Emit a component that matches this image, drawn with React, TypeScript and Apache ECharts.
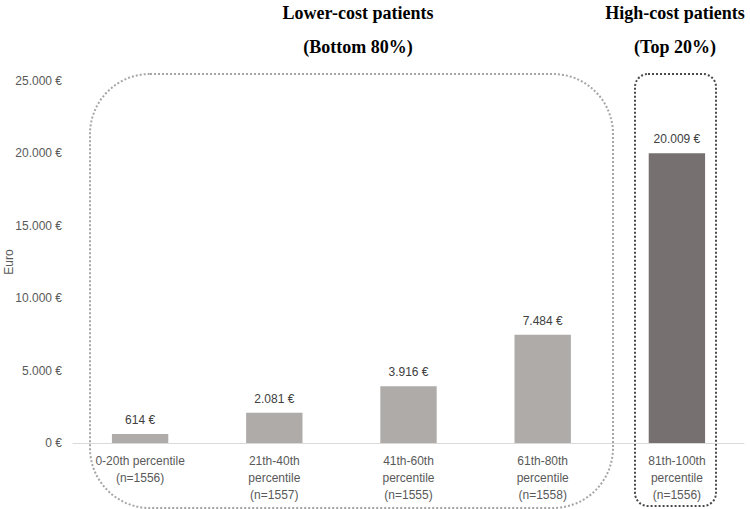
import React, { useEffect, useRef } from "react";
import * as echarts from "echarts";

const categories = [
  "0-20th percentile\n(n=1556)",
  "21th-40th\npercentile\n(n=1557)",
  "41th-60th\npercentile\n(n=1555)",
  "61th-80th\npercentile\n(n=1558)",
  "81th-100th\npercentile\n(n=1556)",
];
const values = [614, 2081, 3916, 7484, 20009];
const barColors = ["#AEABA9", "#AEABA9", "#AEABA9", "#AEABA9", "#767170"];
const yAxisTitle = "Euro";
const groupTitles = [
  { line1: "Lower-cost patients", line2: "(Bottom 80%)", x: 358 },
  { line1: "High-cost patients", line2: "(Top 20%)", x: 675 },
];

const fmtEuro = (v: number) =>
  v.toString().replace(/\B(?=(\d{3})+(?!\d))/g, ".") + " €";

export default function App() {
  const ref = useRef<HTMLDivElement>(null);
  useEffect(() => {
    if (!ref.current) return;
    const chart = echarts.init(ref.current, null, { renderer: "svg" });
    const sans = "Liberation Sans";
    const titleGraphics: any[] = [];
    groupTitles.forEach((t) => {
      titleGraphics.push({
        type: "text",
        x: t.x,
        y: 13,
        style: {
          text: t.line1,
          font: "bold 18px 'Liberation Serif'",
          fill: "#000",
          align: "center",
          verticalAlign: "middle",
        },
      });
      titleGraphics.push({
        type: "text",
        x: t.x,
        y: 47,
        style: {
          text: t.line2,
          font: "bold 18px 'Liberation Serif'",
          fill: "#000",
          align: "center",
          verticalAlign: "middle",
        },
      });
    });
    chart.setOption({
      animation: false,
      grid: {
        left: 73,
        right: 6,
        top: 81,
        bottom: 66,
        containLabel: false,
        outerBoundsMode: "none",
      },
      xAxis: {
        type: "category",
        data: categories,
        axisLine: { lineStyle: { color: "#D9D9D9", width: 1 } },
        axisTick: { show: false },
        axisLabel: {
          color: "#595959",
          fontFamily: sans,
          fontSize: 12,
          lineHeight: 17,
          margin: 9,
          interval: 0,
        },
      },
      yAxis: {
        type: "value",
        min: 0,
        max: 25000,
        interval: 5000,
        splitLine: { show: false },
        axisLine: { show: false },
        axisTick: { show: false },
        axisLabel: {
          color: "#595959",
          fontFamily: sans,
          fontSize: 12,
          margin: 11,
          formatter: (v: number) => fmtEuro(v),
        },
      },
      series: [
        {
          type: "bar",
          barWidth: "42%",
          data: values.map((v, i) => ({ value: v, itemStyle: { color: barColors[i] } })),
          label: {
            show: true,
            position: "top",
            distance: 8,
            color: "#404040",
            fontFamily: sans,
            fontSize: 12,
            formatter: (p: any) => fmtEuro(p.value),
          },
        },
      ],
      graphic: [
        ...titleGraphics,
        {
          type: "text",
          x: 9,
          y: 262,
          rotation: Math.PI / 2,
          style: {
            text: yAxisTitle,
            font: "12px 'Liberation Sans'",
            fill: "#595959",
            align: "center",
            verticalAlign: "middle",
          },
        },
        {
          type: "rect",
          shape: { x: 90, y: 74, width: 523, height: 434, r: 60 },
          style: { fill: "none", stroke: "#A6A6A6", lineWidth: 2, lineDash: [2, 2] },
          silent: true,
        },
        {
          type: "rect",
          shape: { x: 635, y: 74, width: 81, height: 432, r: 13 },
          style: { fill: "none", stroke: "#4A4A4A", lineWidth: 2, lineDash: [2, 2] },
          silent: true,
        },
      ],
    });
    return () => chart.dispose();
  }, []);
  return (
    <div
      ref={ref}
      style={{ position: "fixed", left: 0, top: 0, width: 750, height: 509, background: "#fff" }}
    />
  );
}
